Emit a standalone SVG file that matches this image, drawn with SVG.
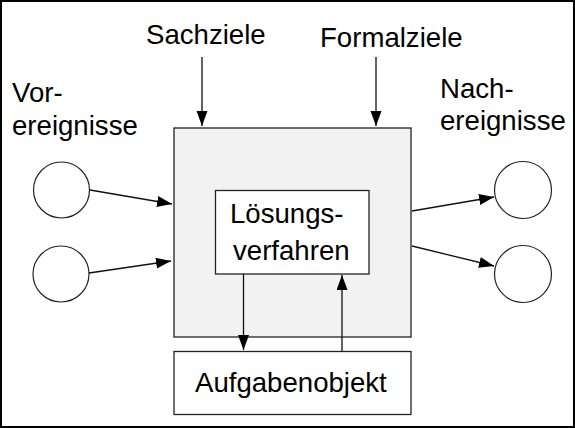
<svg xmlns="http://www.w3.org/2000/svg" width="575" height="428" viewBox="0 0 575 428">
<defs>
<marker id="ah" markerUnits="userSpaceOnUse" markerWidth="16" markerHeight="12" refX="15" refY="5.5" orient="auto">
<path d="M0,0 L15,5.5 L0,11 z" fill="#000"/>
</marker>
<style>
.t{font-family:"Liberation Sans",Arial,sans-serif;font-size:27.6px;fill:#000}
.box{stroke:#222;stroke-width:1.3}
.c{fill:#fff;stroke:#222;stroke-width:1.2}
.ln{stroke:#111;stroke-width:1.3;fill:none;marker-end:url(#ah)}
</style>
</defs>
<rect x="1" y="1" width="573" height="426" fill="#fff" stroke="#000" stroke-width="2"/>
<g id="prozess"><rect class="box" x="174" y="128" width="237" height="209" fill="#f2f2f2"/></g>
<g id="loesungsverfahren"><rect class="box" x="215.5" y="190.5" width="153.5" height="83.5" fill="#fff"/>
<text class="t" x="230" y="223">Lösungs-</text><text class="t" x="233" y="260">verfahren</text></g>
<g id="aufgabenobjekt"><rect class="box" x="174" y="351.5" width="237" height="63" fill="#fff"/>
<text class="t" x="195" y="392">Aufgabenobjekt</text></g>
<g id="sachziele"><text class="t" x="146" y="44">Sachziele</text></g>
<g id="formalziele"><text class="t" x="320" y="47">Formalziele</text></g>
<g id="vorereignisse"><text class="t" x="12" y="102">Vor-</text><text class="t" x="12" y="135">ereignisse</text></g>
<g id="nachereignisse"><text class="t" x="440" y="98">Nach-</text><text class="t" x="440" y="130">ereignisse</text></g>
<g id="vor1"><circle class="c" cx="61.5" cy="190" r="28"/></g>
<g id="vor2"><circle class="c" cx="61" cy="274" r="28"/></g>
<g id="nach1"><circle class="c" cx="523" cy="190" r="28.5"/></g>
<g id="nach2"><circle class="c" cx="523" cy="274" r="28.5"/></g>
<g id="connectors">
<line class="ln" x1="202" y1="57" x2="202" y2="126"/>
<line class="ln" x1="376" y1="57" x2="376" y2="126"/>
<line class="ln" x1="90" y1="190" x2="172" y2="204"/>
<line class="ln" x1="89" y1="273" x2="171" y2="261"/>
<line class="ln" x1="412" y1="211" x2="494" y2="197"/>
<line class="ln" x1="412" y1="246" x2="494" y2="266"/>
<line class="ln" x1="243.5" y1="274" x2="243.5" y2="350"/>
<line class="ln" x1="342" y1="351" x2="342" y2="275"/>
</g>
</svg>
